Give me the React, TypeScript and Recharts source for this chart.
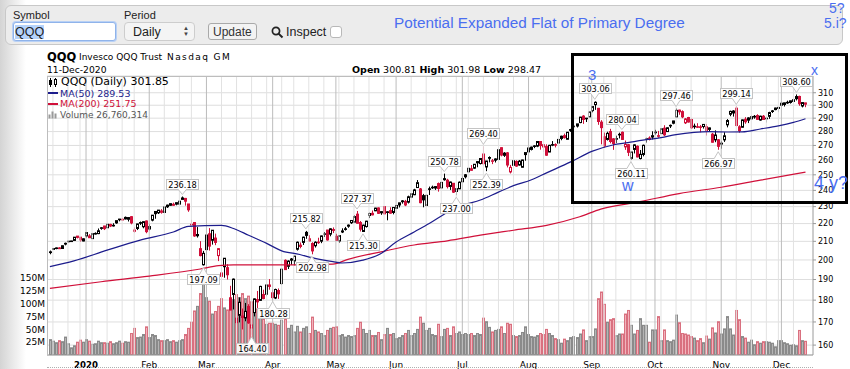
import React from 'react';
import { ComposedChart, Bar, Line, XAxis, YAxis, CartesianGrid, ReferenceLine, ReferenceDot } from 'recharts';

// trading days shown, month by month
const monthDays: [string, number[]][] = [
  ['2019-12', [13, 16, 17, 18, 19, 20, 23, 24, 26, 27, 30, 31]],
  ['2020-01', [2, 3, 6, 7, 8, 9, 10, 13, 14, 15, 16, 17, 21, 22, 23, 24, 27, 28, 29, 30, 31]],
  ['2020-02', [3, 4, 5, 6, 7, 10, 11, 12, 13, 14, 18, 19, 20, 21, 24, 25, 26, 27, 28]],
  ['2020-03', [2, 3, 4, 5, 6, 9, 10, 11, 12, 13, 16, 17, 18, 19, 20, 23, 24, 25, 26, 27, 30, 31]],
  ['2020-04', [1, 2, 3, 6, 7, 8, 9, 13, 14, 15, 16, 17, 20, 21, 22, 23, 24, 27, 28, 29, 30]],
  ['2020-05', [1, 4, 5, 6, 7, 8, 11, 12, 13, 14, 15, 18, 19, 20, 21, 22, 26, 27, 28, 29]],
  ['2020-06', [1, 2, 3, 4, 5, 8, 9, 10, 11, 12, 15, 16, 17, 18, 19, 22, 23, 24, 25, 26, 29, 30]],
  ['2020-07', [1, 2, 6, 7, 8, 9, 10, 13, 14, 15, 16, 17, 20, 21, 22, 23, 24, 27, 28, 29, 30, 31]],
  ['2020-08', [3, 4, 5, 6, 7, 10, 11, 12, 13, 14, 17, 18, 19, 20, 21, 24, 25, 26, 27, 28, 31]],
  ['2020-09', [1, 2, 3, 4, 8, 9, 10, 11, 14, 15, 16, 17, 18, 21, 22, 23, 24, 25, 28, 29, 30]],
  ['2020-10', [1, 2, 5, 6, 7, 8, 9, 12, 13, 14, 15, 16, 19, 20, 21, 22, 23, 26, 27, 28, 29, 30]],
  ['2020-11', [2, 3, 4, 5, 6, 9, 10, 11, 12, 13, 16, 17, 18, 19, 20, 23, 24, 25, 27, 30]],
  ['2020-12', [1, 2, 3, 4, 7, 8, 9, 10, 11]],
];

// [open, high, low, close, volume in millions]
const dec2019 = [
  [203.9, 205.0, 203.0, 204.3, 30], [205.6, 206.3, 205.3, 206.1, 27], [206.4, 206.6, 205.7, 206.1, 24],
  [206.4, 206.8, 205.8, 206.0, 28], [206.1, 207.7, 206.0, 207.6, 26], [208.5, 209.3, 207.8, 208.9, 35],
  [209.8, 210.2, 209.4, 210.1, 22], [210.1, 210.3, 209.7, 210.2, 14], [210.5, 212.4, 210.5, 212.3, 18],
  [212.9, 212.9, 211.6, 212.2, 25], [212.3, 212.4, 209.7, 210.8, 29], [210.2, 211.7, 210.0, 211.4, 25],
];
const jan2020 = [
  [213.0, 214.9, 212.1, 214.9, 30], [212.0, 214.0, 211.9, 213.0, 27], [211.5, 214.4, 211.3, 214.3, 21],
  [214.4, 215.0, 213.8, 214.3, 22], [214.3, 217.2, 214.0, 215.9, 27], [217.5, 218.0, 216.5, 217.6, 24],
  [218.6, 218.7, 216.3, 217.1, 24], [217.6, 219.6, 217.5, 219.6, 23], [219.5, 219.9, 218.0, 218.6, 26],
  [218.7, 220.2, 218.3, 219.0, 22], [220.4, 221.7, 219.9, 221.7, 24], [222.4, 222.7, 221.3, 222.6, 27],
  [222.1, 223.3, 221.7, 222.5, 23], [223.6, 224.1, 222.4, 222.7, 26], [222.5, 223.8, 221.2, 223.5, 25],
  [224.0, 224.3, 219.6, 220.4, 42], [215.6, 217.8, 214.9, 216.3, 52], [217.2, 219.9, 216.3, 219.8, 34],
  [220.6, 221.2, 219.2, 220.2, 35], [218.2, 221.2, 217.3, 221.1, 40], [221.5, 221.8, 214.5, 215.4, 55],
];
const feb2020 = [
  [216.9, 219.6, 216.1, 218.3, 34], [222.0, 225.0, 221.3, 224.9, 40], [227.1, 227.1, 222.8, 225.8, 38],
  [226.3, 228.0, 225.6, 227.9, 30], [226.6, 228.5, 225.8, 227.4, 28], [226.5, 229.9, 226.4, 229.8, 28],
  [230.9, 231.2, 229.2, 229.9, 30], [230.8, 231.9, 230.4, 231.8, 26], [230.8, 232.4, 230.4, 231.4, 28],
  [231.5, 232.5, 230.8, 232.4, 25], [231.5, 233.6, 231.2, 233.3, 28], [234.4, 236.18, 234.3, 235.3, 30],
  [235.0, 235.3, 230.6, 233.3, 40], [231.6, 231.6, 226.9, 228.1, 52], [219.6, 222.2, 218.6, 219.2, 64],
  [220.6, 220.8, 212.5, 213.0, 86], [213.8, 218.0, 212.1, 213.1, 95], [206.0, 210.1, 201.9, 202.3, 120],
  [197.5, 204.8, 197.09, 203.5, 145],
];
const mar2020 = [
  [205.5, 213.6, 202.5, 213.5, 112], [214.2, 217.4, 205.0, 207.4, 105], [210.6, 216.3, 208.2, 216.2, 80],
  [211.8, 214.3, 207.9, 209.4, 85], [202.3, 206.3, 199.4, 206.0, 95], [193.3, 200.2, 191.5, 191.6, 110],
  [196.5, 201.0, 190.9, 200.9, 92], [196.0, 197.8, 190.0, 192.4, 88], [181.0, 186.9, 175.3, 175.4, 112],
  [182.7, 190.5, 175.7, 190.2, 108], [171.7, 180.8, 168.6, 169.7, 118], [173.0, 181.3, 169.8, 179.0, 112],
  [172.0, 176.1, 166.7, 172.7, 120], [171.8, 178.7, 170.3, 174.8, 110], [177.0, 178.1, 169.2, 169.6, 115],
  [167.3, 171.6, 164.4, 168.7, 104], [174.2, 180.8, 172.5, 180.6, 95], [180.3, 184.4, 176.2, 179.2, 90],
  [179.9, 186.9, 179.6, 186.6, 75], [182.7, 185.0, 180.4, 180.8, 70], [182.8, 187.7, 181.8, 187.3, 60],
  [187.3, 190.2, 185.0, 186.6, 62],
];
const apr2020 = [
  [183.5, 185.0, 180.28, 181.2, 62], [181.0, 185.5, 180.5, 185.1, 60], [184.6, 185.6, 180.6, 183.0, 58],
  [188.0, 195.6, 187.4, 195.2, 68], [199.8, 200.3, 194.8, 195.0, 70], [196.7, 199.8, 195.3, 199.4, 52],
  [200.5, 201.0, 197.5, 199.9, 58], [199.5, 202.2, 197.2, 202.0, 45], [205.7, 209.9, 205.0, 209.5, 56],
  [207.2, 209.4, 206.2, 207.9, 45], [209.4, 212.6, 208.0, 212.3, 52], [215.0, 215.82, 211.4, 213.3, 55],
  [211.4, 213.4, 210.0, 210.2, 42], [208.8, 209.5, 202.98, 204.8, 74], [207.6, 210.0, 206.6, 209.5, 48],
  [209.6, 212.0, 208.6, 209.4, 45], [210.1, 213.2, 209.0, 213.0, 42], [214.1, 215.2, 212.4, 214.2, 38],
  [216.3, 216.4, 210.4, 210.8, 48], [214.0, 217.3, 212.8, 217.0, 52], [216.1, 217.8, 214.6, 216.6, 54],
];
const may2020 = [
  [212.8, 214.2, 210.2, 210.6, 55], [210.2, 213.3, 209.2, 213.2, 38], [215.2, 217.3, 214.6, 215.8, 40],
  [217.0, 218.1, 216.0, 216.9, 35], [218.5, 219.5, 217.6, 219.1, 38], [220.5, 221.9, 219.8, 221.8, 36],
  [220.8, 224.8, 220.5, 224.1, 38], [225.5, 227.37, 220.0, 220.2, 52], [220.6, 221.5, 215.5, 216.8, 64],
  [215.5, 219.4, 215.3, 219.1, 50], [218.3, 221.6, 217.7, 221.4, 42], [224.7, 226.4, 223.2, 225.9, 48],
  [226.0, 227.7, 224.8, 225.1, 38], [227.5, 229.3, 227.3, 229.1, 38], [229.2, 229.5, 225.6, 226.0, 44],
  [226.3, 227.3, 225.1, 227.0, 30], [230.0, 230.1, 225.4, 225.7, 40], [226.5, 227.3, 221.9, 226.9, 52],
  [227.6, 229.6, 225.8, 226.1, 40], [226.5, 229.7, 225.4, 229.5, 42],
];
const jun2020 = [
  [229.0, 231.0, 228.7, 230.7, 32], [231.0, 232.3, 229.5, 232.3, 34], [233.0, 234.0, 231.8, 233.5, 38],
  [233.2, 234.1, 230.3, 231.0, 42], [232.7, 236.7, 231.9, 236.0, 48], [235.8, 238.0, 235.2, 237.9, 38],
  [237.3, 241.0, 237.0, 240.3, 42], [241.8, 246.6, 241.5, 244.9, 50], [240.9, 241.5, 232.0, 232.4, 74],
  [236.7, 237.8, 229.6, 234.1, 62], [230.7, 237.3, 230.3, 236.9, 48], [241.0, 242.4, 237.1, 240.7, 52],
  [242.0, 243.0, 240.9, 241.8, 40], [241.5, 242.7, 240.3, 242.4, 38], [244.3, 245.0, 239.2, 241.2, 60],
  [241.6, 245.3, 241.0, 245.1, 36], [247.5, 250.78, 246.2, 246.8, 50], [246.5, 247.4, 241.2, 242.4, 52],
  [242.5, 245.6, 240.3, 245.3, 38], [244.5, 244.6, 238.4, 238.9, 55], [239.3, 241.3, 237.0, 241.1, 42],
  [241.0, 245.7, 240.8, 245.2, 45],
];
const jul2020 = [
  [245.5, 248.9, 245.3, 247.6, 40], [250.0, 250.5, 247.6, 248.7, 42], [252.0, 254.5, 251.4, 254.3, 40],
  [254.0, 256.5, 252.8, 253.0, 42], [254.4, 257.1, 253.8, 257.0, 38], [258.8, 259.0, 255.0, 258.0, 42],
  [257.5, 261.0, 256.9, 260.9, 40], [264.0, 269.4, 256.1, 257.4, 72], [255.2, 259.3, 252.39, 259.2, 65],
  [261.6, 262.4, 258.3, 261.1, 54], [259.2, 260.6, 257.1, 259.4, 45], [260.6, 261.0, 258.2, 259.8, 48],
  [260.3, 267.2, 259.9, 267.0, 50], [268.4, 268.6, 262.4, 263.3, 55], [263.1, 265.3, 262.0, 264.6, 42],
  [264.8, 265.4, 254.9, 256.5, 62], [251.9, 256.6, 250.9, 254.9, 60], [256.3, 259.7, 256.1, 259.4, 38],
  [258.9, 259.7, 255.3, 255.8, 36], [256.5, 259.9, 256.1, 259.1, 38], [255.0, 260.1, 254.8, 259.9, 44],
  [263.6, 265.1, 259.4, 265.0, 55],
];
const aug2020 = [
  [265.5, 268.7, 265.0, 268.2, 40], [267.2, 269.2, 266.5, 268.8, 36], [269.3, 270.2, 268.1, 269.7, 35],
  [269.5, 273.0, 268.8, 272.8, 38], [272.8, 273.1, 267.0, 269.9, 42], [270.5, 271.0, 265.4, 268.9, 40],
  [269.2, 270.8, 262.8, 263.2, 50], [265.4, 270.4, 265.3, 270.1, 42], [270.2, 273.1, 269.5, 270.6, 38],
  [270.6, 271.5, 268.6, 270.3, 32], [271.7, 274.6, 271.3, 274.3, 30], [275.0, 277.0, 273.7, 276.6, 23],
  [277.0, 278.5, 274.9, 275.6, 31], [274.4, 279.7, 274.3, 279.5, 28], [281.4, 282.0, 279.8, 281.3, 34],
  [284.0, 284.4, 280.4, 283.7, 36], [284.1, 285.7, 283.0, 285.7, 34], [286.7, 291.0, 286.2, 290.8, 41],
  [291.6, 292.3, 285.7, 289.0, 49], [289.6, 290.2, 287.1, 290.0, 28], [291.0, 294.9, 290.7, 294.8, 36],
];
const sep2020 = [
  [295.8, 299.1, 294.5, 299.0, 36], [300.5, 303.06, 296.4, 302.3, 51], [297.6, 297.9, 285.0, 287.5, 110],
  [287.0, 288.5, 270.8, 282.9, 123], [276.2, 279.3, 268.4, 269.6, 99], [274.3, 279.9, 273.5, 278.7, 64],
  [280.0, 282.0, 271.5, 272.8, 69], [274.7, 275.2, 266.9, 271.4, 71], [274.9, 277.0, 271.7, 274.9, 38],
  [277.7, 279.2, 275.0, 278.0, 41], [279.5, 280.04, 274.0, 274.3, 41], [269.0, 273.5, 266.9, 270.7, 80],
  [270.5, 271.0, 262.6, 265.2, 87], [261.0, 265.6, 260.11, 265.4, 58], [267.2, 270.8, 264.4, 270.4, 41],
  [269.4, 270.0, 261.7, 262.0, 48], [260.9, 266.8, 260.3, 263.8, 71], [263.7, 270.6, 262.4, 270.1, 58],
  [274.4, 275.5, 272.0, 274.8, 58], [275.3, 276.5, 273.6, 274.3, 25], [276.0, 280.2, 274.3, 277.0, 49],
];
const oct2020 = [
  [279.5, 281.3, 277.8, 279.6, 49], [276.8, 280.5, 275.5, 277.0, 75], [278.5, 282.3, 278.2, 282.1, 28],
  [282.5, 284.7, 276.8, 277.6, 49], [280.0, 283.0, 279.8, 282.8, 28], [284.5, 285.2, 282.6, 284.6, 26],
  [286.2, 288.0, 285.4, 287.9, 29], [291.0, 297.46, 290.5, 296.0, 78], [296.2, 296.5, 292.6, 294.9, 63],
  [295.0, 296.0, 290.0, 291.0, 42], [286.5, 290.1, 285.6, 289.4, 41], [290.5, 291.0, 286.7, 287.1, 39],
  [289.0, 289.7, 281.9, 282.8, 36], [284.0, 285.9, 282.0, 283.6, 33], [283.6, 286.2, 282.8, 283.3, 28],
  [283.5, 284.8, 279.5, 283.2, 32], [283.7, 285.6, 282.2, 285.3, 24], [283.5, 285.6, 277.1, 280.6, 37],
  [281.6, 283.0, 280.0, 282.7, 31], [278.1, 279.0, 272.0, 272.3, 53], [274.0, 280.9, 272.3, 277.5, 43],
  [274.0, 274.5, 266.97, 269.4, 65],
];
const nov2020 = [
  [271.0, 272.9, 267.7, 271.6, 41], [274.0, 279.5, 272.5, 276.9, 51], [285.0, 289.3, 283.1, 288.2, 75],
  [293.0, 295.8, 291.5, 295.2, 51], [294.0, 296.2, 291.2, 295.5, 39], [297.7, 299.14, 283.8, 284.5, 87],
  [283.5, 284.7, 279.2, 280.6, 69], [283.2, 289.0, 282.9, 288.7, 36], [289.2, 290.8, 285.8, 287.3, 33],
  [288.5, 290.7, 286.3, 290.2, 25], [289.5, 292.0, 288.6, 291.2, 29], [290.9, 292.4, 289.6, 291.4, 20],
  [292.0, 293.0, 289.0, 289.1, 26], [288.6, 291.9, 288.1, 291.5, 23], [291.5, 292.4, 288.8, 289.0, 26],
  [290.0, 291.0, 286.7, 289.7, 26], [291.4, 294.9, 289.5, 294.3, 25], [295.2, 296.3, 294.0, 295.6, 23],
  [296.6, 298.1, 296.1, 297.8, 16], [297.5, 298.8, 294.5, 298.3, 28],
];
const dec2020 = [
  [300.0, 303.0, 299.1, 301.6, 28], [300.6, 302.0, 299.0, 301.9, 24], [302.3, 303.6, 301.1, 302.0, 22],
  [302.2, 303.6, 301.3, 303.5, 19], [303.0, 305.1, 302.8, 304.4, 20], [305.2, 308.6, 303.8, 306.9, 18],
  [307.0, 307.6, 299.6, 301.2, 48], [299.4, 302.3, 298.3, 302.1, 28], [300.81, 301.98, 298.47, 301.85, 26.76],
];
const monthBars = [dec2019, jan2020, feb2020, mar2020, apr2020, may2020, jun2020, jul2020, aug2020, sep2020, oct2020, nov2020, dec2020];

// moving averages
const ma50Points: [string, number][] = [
  ['2019-12-13', 196.5], ['2019-12-26', 199.5], ['2020-01-13', 205.2], ['2020-01-29', 210.7], ['2020-02-13', 215.2],
  ['2020-02-21', 218.4], ['2020-03-09', 219.0], ['2020-03-13', 217.2], ['2020-03-20', 213.4], ['2020-03-30', 208.9],
  ['2020-04-06', 204.8], ['2020-04-15', 202.9], ['2020-04-21', 201.2], ['2020-04-30', 199.1], ['2020-05-05', 198.4],
  ['2020-05-14', 199.9], ['2020-05-22', 203.4], ['2020-06-01', 209.6], ['2020-06-09', 215.2], ['2020-06-16', 220.0],
  ['2020-06-24', 226.5], ['2020-07-01', 230.7], ['2020-07-10', 234.0], ['2020-07-20', 238.9], ['2020-07-27', 243.0],
  ['2020-08-04', 246.8], ['2020-08-11', 251.3], ['2020-08-21', 258.6], ['2020-09-01', 265.8], ['2020-09-11', 270.3],
  ['2020-09-18', 272.0], ['2020-09-25', 273.8], ['2020-10-05', 275.6], ['2020-10-12', 277.8], ['2020-10-20', 279.4],
  ['2020-10-27', 279.9], ['2020-11-04', 279.7], ['2020-11-11', 279.8], ['2020-11-19', 281.9], ['2020-11-30', 284.2],
  ['2020-12-07', 286.8], ['2020-12-11', 289.53],
];
const ma200Points: [string, number][] = [
  ['2019-12-13', 185.6], ['2020-01-09', 188.9], ['2020-02-03', 191.7], ['2020-02-27', 195.3], ['2020-03-06', 197.0],
  ['2020-03-13', 197.4], ['2020-04-15', 197.4], ['2020-04-30', 197.8], ['2020-05-07', 200.3], ['2020-05-22', 204.3],
  ['2020-06-09', 208.0], ['2020-06-24', 210.3], ['2020-07-10', 213.4], ['2020-07-27', 216.2], ['2020-08-11', 219.0],
  ['2020-08-26', 224.0], ['2020-09-04', 228.5], ['2020-09-24', 233.0], ['2020-10-13', 238.0], ['2020-11-02', 242.0],
  ['2020-11-19', 246.5], ['2020-12-11', 251.75],
];

// peak / trough price flags
const callouts: [string, number, 'above' | 'below'][] = [
  ['2020-02-19', 236.18, 'above'], ['2020-02-28', 197.09, 'below'], ['2020-03-23', 164.4, 'below'],
  ['2020-04-01', 180.28, 'below'], ['2020-04-17', 215.82, 'above'], ['2020-04-21', 202.98, 'below'],
  ['2020-05-12', 227.37, 'above'], ['2020-05-14', 215.3, 'below'], ['2020-06-23', 250.78, 'above'],
  ['2020-06-29', 237.0, 'below'], ['2020-07-13', 269.4, 'above'], ['2020-07-14', 252.39, 'below'],
  ['2020-09-02', 303.06, 'above'], ['2020-09-16', 280.04, 'above'], ['2020-09-21', 260.11, 'below'],
  ['2020-10-12', 297.46, 'above'], ['2020-10-30', 266.97, 'below'], ['2020-11-09', 299.14, 'above'],
  ['2020-12-08', 308.6, 'above'],
];

const priceTicks = [160, 170, 180, 190, 200, 210, 220, 230, 240, 250, 260, 270, 280, 290, 300, 310];
const volumeTicks = [25, 50, 75, 100, 125, 150];
const monthNames = ['2020', 'Feb', 'Mar', 'Apr', 'May', 'Jun', 'Jul', 'Aug', 'Sep', 'Oct', 'Nov', 'Dec'];

type Row = {
  date: string; o: number; h: number; l: number; c: number; vol: number;
  range: [number, number]; up: boolean; ma50?: number; ma200?: number;
};

const rows: Row[] = monthDays.flatMap(([ym, days], m) =>
  days.map((d, k) => {
    const [o, h, l, c, v] = monthBars[m][k];
    return { date: `${ym}-${String(d).padStart(2, '0')}`, o, h, l, c, vol: v, range: [l, h] as [number, number], up: true };
  }),
);
rows.forEach((r, i) => {
  r.up = i === 0 ? r.c >= r.o : r.c >= rows[i - 1].c;
});
ma50Points.forEach(([d, v]) => {
  const r = rows.find((x) => x.date === d);
  if (r) r.ma50 = v;
});
ma200Points.forEach(([d, v]) => {
  const r = rows.find((x) => x.date === d);
  if (r) r.ma200 = v;
});

const monthTicks = rows.filter((r, i) => i > 0 && r.date.slice(0, 7) !== rows[i - 1].date.slice(0, 7)).map((r) => r.date);
const dayNum = (s: string) => Date.UTC(+s.slice(0, 4), +s.slice(5, 7) - 1, +s.slice(8, 10)) / 86400000;
const weekTicks = rows
  .filter((r, i) => i > 0 && ((dayNum(r.date) + 4) % 7 <= (dayNum(rows[i - 1].date) + 4) % 7 || dayNum(r.date) - dayNum(rows[i - 1].date) >= 7))
  .map((r) => r.date)
  .filter((d) => !monthTicks.includes(d));

const RED = '#d0103a';
const NAVY = '#1c1c8c';
const BLUE = '#4a6ef0';
const FONT = '"DejaVu Sans", Verdana, sans-serif';
const UI = '"Liberation Sans", Arial, Helvetica, sans-serif';

const Candle = (props: any) => {
  const { x, y, width, height, payload } = props;
  if (payload == null || x == null) return null;
  const { o, h, l, c, up } = payload as Row;
  const cx = Math.round(x + width / 2) + 0.5;
  const span = Math.log(h) - Math.log(l);
  const py = (p: number) => (span > 0 ? y + (height * (Math.log(h) - Math.log(p))) / span : y);
  const color = up ? '#000' : RED;
  const top = py(Math.max(o, c));
  const bot = py(Math.min(o, c));
  const hollow = c > o;
  return (
    <g>
      <line x1={cx} x2={cx} y1={y} y2={y + height} stroke={color} strokeWidth={1} />
      <rect x={cx - 1} y={top} width={2} height={Math.max(bot - top, 0.6)} fill={hollow ? '#fff' : color} stroke={color} strokeWidth={1} />
    </g>
  );
};

const VolumeBar = (props: any) => {
  const { x, y, width, height, payload } = props;
  if (payload == null || x == null) return null;
  const cx = Math.round(x + width / 2) + 0.5;
  const up = (payload as Row).up;
  return (
    <rect x={cx - 1} y={y} width={2} height={Math.max(height, 0)}
      fill={up ? '#b4b4b4' : '#f2b3bc'} stroke={up ? '#8a8a8a' : '#d9707f'} strokeWidth={1} />
  );
};

const Callout = ({ cx, cy, text, below }: { cx: number; cy: number; text: string; below: boolean }) => {
  const fs = 8.2;
  const w = Math.round([...text].reduce((s, ch) => s + (ch === '.' ? 0.318 : 0.636), 0) * fs + 3);
  const hgt = 10;
  const tail = 6;
  const bx = Math.round(cx - w / 2) + 0.5;
  const by = below ? Math.round(cy + 2 + tail) + 0.5 : Math.round(cy - 2 - tail - hgt) + 0.5;
  const base = below ? by : by + hgt;
  const tip = below ? cy + 2 : cy - 2;
  return (
    <g>
      <rect x={bx} y={by} width={w} height={hgt} fill="#fff" fillOpacity={0.92} stroke="#c4c4c4" />
      <path d={`M${cx - 4},${base} L${cx},${tip} L${cx + 4},${base}`} fill="#fff" stroke="#c4c4c4" />
      <line x1={cx - 3.5} x2={cx + 3.5} y1={base} y2={base} stroke="#fff" />
      <text x={bx + w / 2} y={by + hgt - 2} textAnchor="middle" fontSize={fs} fontFamily={FONT} fill="#000">{text}</text>
    </g>
  );
};

const MonthTick = (props: any) => {
  const { x, y, payload } = props;
  const m = +String(payload.value).slice(5, 7) - 1;
  const label = monthNames[m];
  return (
    <text x={x} y={y + 11} textAnchor="middle" fontSize={m === 0 ? 8.6 : 9} fontFamily={FONT} fontWeight={m === 0 ? 'bold' : 'normal'} fill="#000">
      {label}
    </text>
  );
};

const PriceChart = () => (
  <div style={{ position: 'absolute', left: 0, top: 0 }}>
    <ComposedChart width={850} height={369} data={rows} margin={{ top: 76, right: 0, bottom: 0, left: 7 }}>
      <XAxis xAxisId="main" dataKey="date" type="category" ticks={monthTicks} interval={0} tick={<MonthTick />}
        tickLine={false} tickSize={0} axisLine={{ stroke: '#9a9a9a' }} height={14} padding={{ left: 1.4, right: 6 }} />
      <XAxis xAxisId="vol" dataKey="date" type="category" hide padding={{ left: 1.4, right: 6 }} />
      <YAxis yAxisId="price" orientation="right" scale="log" domain={[155.9, 323.9]} allowDataOverflow ticks={priceTicks}
        interval={0} width={37} tickSize={3} tickMargin={2} axisLine={{ stroke: '#9a9a9a' }} tickLine={{ stroke: '#9a9a9a' }}
        tick={{ fontSize: 8, fontFamily: FONT, fill: '#000' }} />
      <YAxis yAxisId="vol" orientation="left" domain={[0, 545]} allowDataOverflow ticks={volumeTicks} interval={0} width={40}
        tickSize={0} tickMargin={2} axisLine={false} tickLine={false} tickFormatter={(v: number) => `${v}M`}
        tick={{ fontSize: 9, fontFamily: FONT, fill: '#000' }} />
      <CartesianGrid xAxisId="main" yAxisId="price" vertical={false} stroke="#dedede" />
      {weekTicks.map((d) => (
        <ReferenceLine key={`w${d}`} x={d} xAxisId="main" yAxisId="price" stroke="#e2e2e2" />
      ))}
      {monthTicks.map((d) => (
        <ReferenceLine key={`m${d}`} x={d} xAxisId="main" yAxisId="price" stroke="#bcbcbc" />
      ))}
      <Bar xAxisId="vol" yAxisId="vol" dataKey="vol" shape={VolumeBar} isAnimationActive={false} />
      <Line xAxisId="main" yAxisId="price" dataKey="ma200" type="monotone" stroke={RED} strokeWidth={1.2} dot={false}
        connectNulls isAnimationActive={false} />
      <Line xAxisId="main" yAxisId="price" dataKey="ma50" type="monotone" stroke={NAVY} strokeWidth={1.2} dot={false}
        connectNulls isAnimationActive={false} />
      <Bar xAxisId="main" yAxisId="price" dataKey="range" shape={Candle} isAnimationActive={false} />
      {callouts.map(([d, v, pos]) => (
        <ReferenceDot key={`c${d}`} x={d} y={v} xAxisId="main" yAxisId="price"
          shape={(p: any) => <Callout cx={p.cx} cy={p.cy} text={v.toFixed(2)} below={pos === 'below'} />} />
      ))}
    </ComposedChart>
  </div>
);

const abs = (left: number, top: number, extra: React.CSSProperties = {}): React.CSSProperties => ({
  position: 'absolute', left, top, whiteSpace: 'nowrap', ...extra,
});

const Toolbar = () => (
  <>
    <div style={abs(5, 5, { width: 838, height: 40, background: '#ececec', border: '1px solid #c8c8c8', borderRadius: 6, boxSizing: 'border-box' })} />
    <div style={abs(13, 9, { fontFamily: UI, fontSize: 11, color: '#222' })}>Symbol</div>
    <div style={abs(13, 22, { width: 103, height: 19, background: '#fff', border: '1px solid #8fb3ea', borderRadius: 3, boxSizing: 'border-box', boxShadow: '0 0 0 1px #b9d1f5' })} />
    <div style={abs(15, 25, { fontFamily: UI, fontSize: 12.5, lineHeight: '14px', color: '#222', background: '#b5d3fb' })}>QQQ</div>
    <div style={abs(124, 9, { fontFamily: UI, fontSize: 11, color: '#222' })}>Period</div>
    <div style={abs(124, 22, { width: 71, height: 19, background: '#f4f4f4', border: '1px solid #cdcdcd', borderRadius: 4, boxSizing: 'border-box' })} />
    <div style={abs(133, 25, { fontFamily: UI, fontSize: 12.5, lineHeight: '14px', color: '#222' })}>Daily</div>
    <div style={abs(183, 25, { fontFamily: UI, fontSize: 6, lineHeight: '6px', color: '#444' })}>▲<br />▼</div>
    <div style={abs(208, 23, { width: 49, height: 17, background: '#f3f3f3', border: '1px solid #a9a9a9', borderRadius: 3, boxSizing: 'border-box' })} />
    <div style={abs(213, 25, { fontFamily: UI, fontSize: 12, lineHeight: '14px', color: '#333' })}>Update</div>
    <svg style={abs(271, 26)} width={13} height={13}>
      <circle cx={5} cy={5} r={3.6} fill="none" stroke="#222" strokeWidth={1.7} />
      <line x1={7.6} y1={7.6} x2={11.5} y2={11.5} stroke="#222" strokeWidth={2} />
    </svg>
    <div style={abs(286, 25, { fontFamily: UI, fontSize: 12.5, lineHeight: '14px', color: '#222' })}>Inspect</div>
    <div style={abs(330, 26, { width: 12, height: 12, background: '#fff', border: '1px solid #b8b8b8', borderRadius: 3, boxSizing: 'border-box' })} />
    <div style={abs(394, 14, { fontFamily: UI, fontSize: 15.3, color: BLUE })}>Potential Expanded Flat of Primary Degree</div>
    <div style={abs(829, 0, { fontFamily: UI, fontSize: 14, color: BLUE })}>5?</div>
    <div style={abs(824, 15, { fontFamily: UI, fontSize: 14, color: BLUE })}>5.i?</div>
  </>
);

const Header = () => (
  <>
    <div style={abs(47, 51, { fontFamily: FONT, fontSize: 11.5, lineHeight: '12px', fontWeight: 'bold' })}>QQQ</div>
    <div style={abs(79, 52, { fontFamily: FONT, fontSize: 9, lineHeight: '11px' })}>Invesco QQQ Trust</div>
    <div style={abs(167, 52, { fontFamily: FONT, fontSize: 9, lineHeight: '11px', letterSpacing: 1.4 })}>Nasdaq GM</div>
    <div style={abs(47, 64, { fontFamily: FONT, fontSize: 9.2, lineHeight: '11px' })}>11-Dec-2020</div>
    <div style={abs(352, 64, { fontFamily: FONT, fontSize: 9.5, lineHeight: '11px' })}>
      <b>Open</b> 300.81 <b>High</b> 301.98 <b>Low</b> 298.47
    </div>
  </>
);

const Legend = () => (
  <>
    <svg style={abs(48, 78)} width={10} height={9}>
      <line x1={2.5} x2={2.5} y1={0} y2={9} stroke="#000" />
      <rect x={1.5} y={2.5} width={2} height={4} fill="#000" stroke="#000" />
      <line x1={7.5} x2={7.5} y1={0} y2={9} stroke="#000" />
      <rect x={6.5} y={1.5} width={2} height={5} fill="#fff" stroke="#000" />
    </svg>
    <div style={abs(61, 77, { fontFamily: FONT, fontSize: 11, lineHeight: '10.5px', color: '#000' })}>QQQ (Daily) 301.85</div>
    <div style={abs(48, 92, { width: 10, height: 2, background: NAVY })} />
    <div style={abs(60, 88.5, { fontFamily: FONT, fontSize: 9.5, lineHeight: '10px', color: NAVY })}>MA(50) 289.53</div>
    <div style={abs(48, 103, { width: 10, height: 2, background: RED })} />
    <div style={abs(60, 99, { fontFamily: FONT, fontSize: 9.5, lineHeight: '10px', color: RED })}>MA(200) 251.75</div>
    <svg style={abs(48, 110)} width={10} height={9}>
      <rect x={0.5} y={4.5} width={2} height={4} fill="#999" />
      <rect x={3.5} y={1.5} width={2} height={7} fill="#999" />
      <rect x={6.5} y={3.5} width={2} height={5} fill="#999" />
    </svg>
    <div style={abs(60, 109.5, { fontFamily: FONT, fontSize: 9, lineHeight: '10px', color: '#555' })}>Volume 26,760,314</div>
  </>
);

const Annotations = () => (
  <>
    <div style={abs(571, 53, { width: 277, height: 151, border: '3px solid #000', boxSizing: 'border-box' })} />
    <div style={abs(588, 66, { fontFamily: UI, fontSize: 15, color: BLUE })}>3</div>
    <div style={abs(811, 62, { fontFamily: UI, fontSize: 14, color: BLUE })}>x</div>
    <div style={abs(622, 178, { fontFamily: UI, fontSize: 16, lineHeight: '16px', color: BLUE })}>w</div>
    <div style={abs(814, 174, { fontFamily: UI, fontSize: 18, lineHeight: '18px', color: BLUE })}>4 y?</div>
  </>
);

export default function App() {
  return (
    <div style={{ position: 'absolute', left: 0, top: 0, width: 850, height: 369, overflow: 'hidden', background: '#fff' }}>
      <div style={abs(0, 0, { width: 26, height: 369, background: 'linear-gradient(to right, #d4d4d4, #ffffff)' })} />
      <PriceChart />
      <div style={abs(47, 76, { width: 766, height: 279, borderTop: '1px solid #bdbdbd', borderLeft: '1px solid #bdbdbd', boxSizing: 'border-box', pointerEvents: 'none' })} />
      <div style={abs(47, 367, { width: 766, height: 0, borderTop: '1px dotted #b0b0b0' })} />
      <Toolbar />
      <Header />
      <Legend />
      <Annotations />
    </div>
  );
}
